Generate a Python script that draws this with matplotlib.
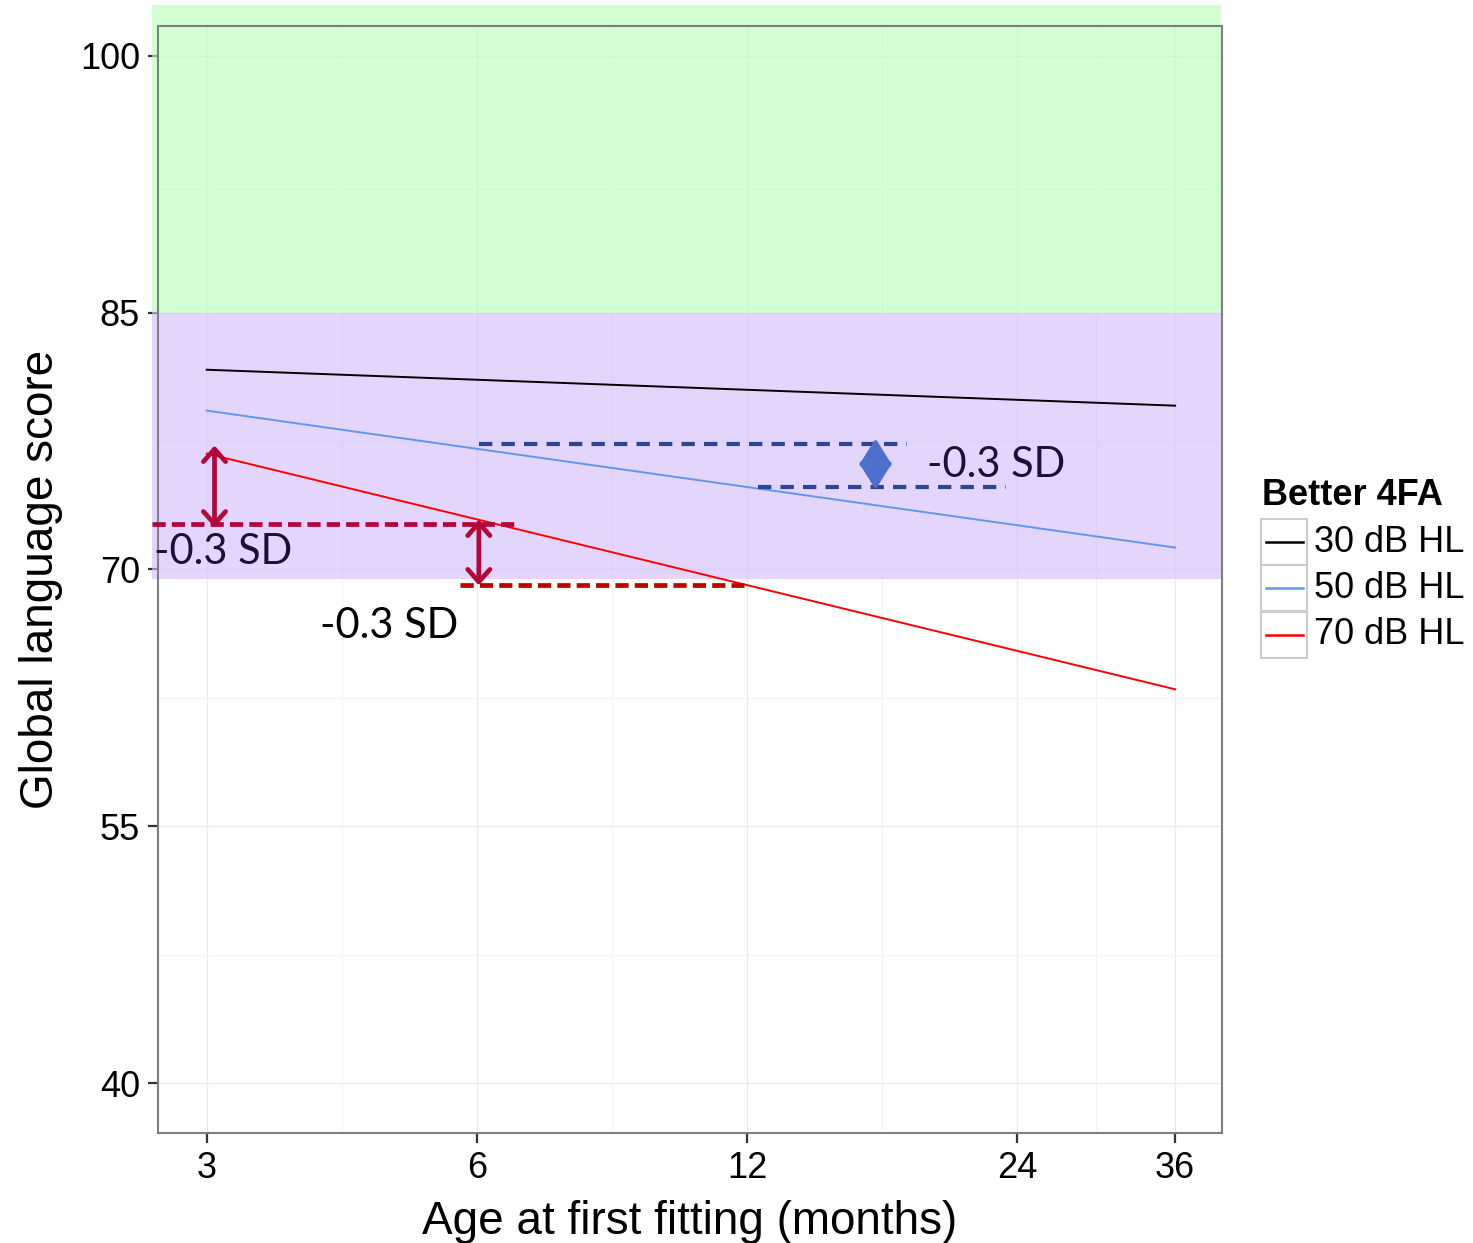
import matplotlib.pyplot as plt
from matplotlib.patches import Rectangle
from matplotlib.lines import Line2D
import matplotlib.ticker as mticker

# fitted lines (age at first fitting, months -> score)
ages = [3, 36]
series_names = ["30 dB HL", "50 dB HL", "70 dB HL"]
series_values = [[81.67, 79.57], [79.28, 71.28], [76.77, 63.0]]
series_colors = ["#000000", "#6495ED", "#FF0000"]

x_ticks = [3, 6, 12, 24, 36]
x_minor = [4.243, 8.485, 16.97, 29.39]
y_ticks = [40, 55, 70, 85, 100]
y_minor = [47.5, 62.5, 77.5, 92.5]

# shaded bands (score ranges)
green_band = (85, 102.98)
purple_band = (69.42, 85)

# -0.3 SD markers: (x0, x1, y)
red_dashes = [(2.609, 6.62, 72.68), (5.74, 11.92, 69.07)]
red_dash_colors = ["#B0083A", "#C00000"]
blue_dashes = [(6.03, 18.08, 77.35), (12.33, 23.3, 74.79)]
red_arrows = [(3.06, 77.24, 72.45), (6.03, 72.92, 69.07)]
blue_arrow = (16.69, 77.65, 74.67)
sd_labels = [(2.62, 71.0, "#1E0E3C"), (4.01, 66.67, "#000000"), (19.05, 76.13, "#1E0E3C")]

plt.rcParams["font.family"] = ["Liberation Sans", "DejaVu Sans"]

fig = plt.figure(figsize=(14.73, 12.43), dpi=100)
ax = fig.add_axes([158 / 1473, 1 - 1133 / 1243, (1222 - 158) / 1473, (1133 - 26) / 1243])

ax.set_xscale("log")
ax.set_xlim(2.647, 40.6)
ax.set_ylim(37.08, 101.75)

ax.set_xticks(x_ticks)
ax.set_xticks(x_minor, minor=True)
ax.xaxis.set_major_formatter(mticker.FixedFormatter([str(t) for t in x_ticks]))
ax.xaxis.set_minor_formatter(mticker.NullFormatter())
ax.set_yticks(y_ticks)
ax.set_yticks(y_minor, minor=True)

ax.set_axisbelow(True)
ax.grid(which="major", color="#EBEBEB", linewidth=1.0)
ax.grid(which="minor", color="#F4F4F4", linewidth=0.8)
ax.tick_params(which="major", length=7, width=1.6, color="#333333",
               labelsize=26, pad=6)
ax.tick_params(which="minor", length=0)
for s in ax.spines.values():
    s.set_color("#7F7F7F")
    s.set_linewidth(1.5)

# bands
x_left, x_right = 2.609, 40.5
ax.add_patch(Rectangle((x_left, green_band[0]), x_right - x_left,
                       green_band[1] - green_band[0], facecolor="#B8FFB8",
                       alpha=0.6, edgecolor="none", clip_on=False, zorder=1))
ax.add_patch(Rectangle((x_left, purple_band[0]), x_right - x_left,
                       purple_band[1] - purple_band[0], facecolor="#D2B9FC",
                       alpha=0.6, edgecolor="none", clip_on=False, zorder=1))

for vals, c in zip(series_values, series_colors):
    ax.plot(ages, vals, color=c, linewidth=1.4, zorder=3)

# dashed reference lines
for (x0, x1, y), c in zip(red_dashes, red_dash_colors):
    ax.plot([x0, x1], [y, y], color=c, linewidth=3.4, dashes=(2.8, 1.3),
            clip_on=False, zorder=4, solid_capstyle="butt")
for x0, x1, y in blue_dashes:
    ax.plot([x0, x1], [y, y], color="#2E4593", linewidth=3.0, dashes=(3.2, 2.2),
            clip_on=False, zorder=4)

for x, y0, y1 in red_arrows:
    ax.annotate("", xy=(x, y0), xytext=(x, y1),
                arrowprops=dict(arrowstyle="<->,head_length=0.9,head_width=0.8",
                                color="#B0083A", lw=3.4, shrinkA=0, shrinkB=0),
                zorder=5)
bx, by0, by1 = blue_arrow
ax.annotate("", xy=(bx, by0), xytext=(bx, by1),
            arrowprops=dict(arrowstyle="<|-|>,head_length=1.6,head_width=1.0",
                            color="#4F6FCC", lw=3.0, shrinkA=0, shrinkB=0),
            zorder=5)

for x, y, c in sd_labels:
    ax.text(x, y, "-0.3 SD", color=c, fontsize=30, family=["Lato", "DejaVu Sans"],
            ha="left", va="center", zorder=6, clip_on=False)

ax.set_xlabel("Age at first fitting (months)", fontsize=33, labelpad=10)
ax.set_ylabel("Global language score", fontsize=33, labelpad=12)

# legend drawn by hand in ggplot style
fig.text(1262 / 1473, 1 - 496 / 1243, "Better 4FA", fontsize=26,
         fontweight="bold", ha="left", va="center")
box_top = 519
for i, (name, c) in enumerate(zip(series_names, series_colors)):
    top = box_top + i * 46.3
    fig.patches.append(Rectangle((1261 / 1473, 1 - (top + 46) / 1243), 46 / 1473,
                                 46 / 1243, transform=fig.transFigure,
                                 facecolor="white", edgecolor="#CCCCCC", lw=1.5))
    yc = 1 - (top + 23) / 1243
    fig.lines.append(Line2D([1266 / 1473, 1303 / 1473], [yc, yc], color=c,
                            lw=1.8, transform=fig.transFigure))
    fig.text(1314 / 1473, yc, name, fontsize=26, ha="left", va="center")

fig.savefig("out.png", dpi=100)
